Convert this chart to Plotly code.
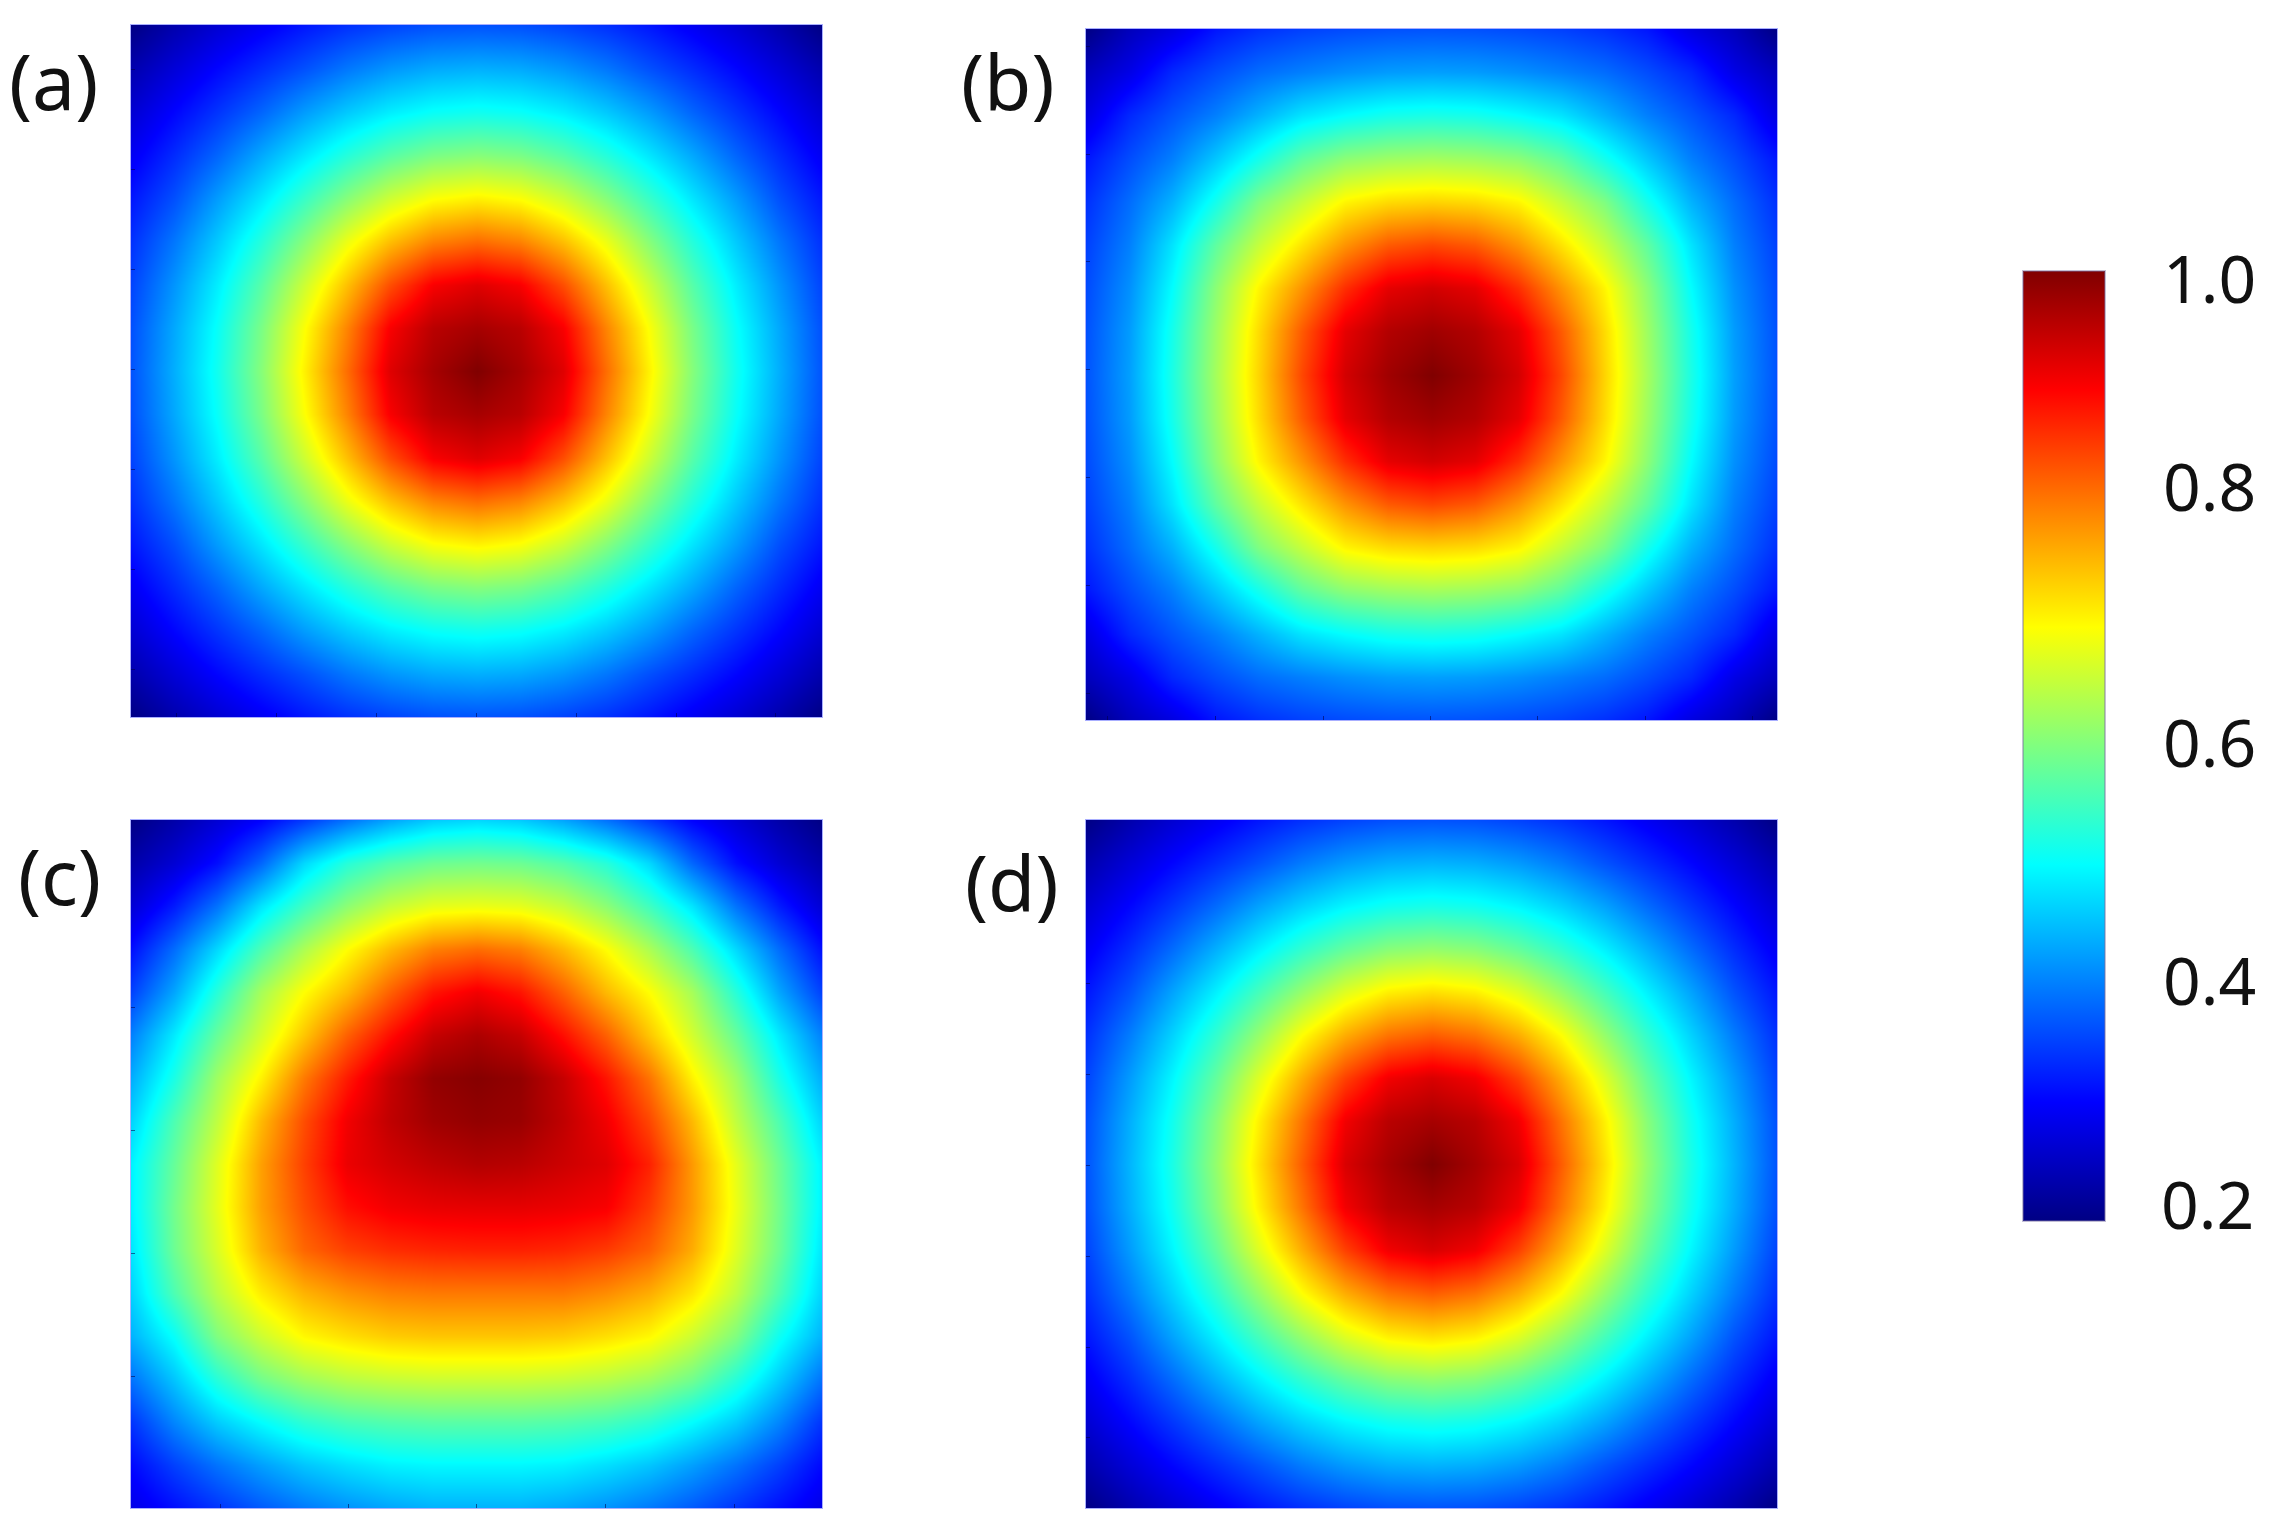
import plotly.graph_objects as go

W, H = 2276, 1540

GRID = [i / 16 for i in range(17)]

PANEL_A = [
    [.20, .233, .263, .29, .316, .337, .352, .362, .365, .362, .352, .337, .316, .29, .263, .233, .20],
    [.233, .268, .302, .333, .362, .393, .417, .432, .437, .432, .417, .393, .362, .333, .302, .268, .233],
    [.263, .302, .34, .379, .422, .458, .487, .505, .512, .505, .487, .458, .422, .379, .34, .302, .263],
    [.29, .333, .379, .432, .481, .528, .568, .595, .605, .595, .568, .528, .481, .432, .379, .333, .29],
    [.316, .362, .422, .481, .543, .605, .66, .697, .71, .697, .66, .605, .543, .481, .422, .362, .316],
    [.337, .393, .458, .528, .605, .685, .75, .797, .815, .797, .75, .685, .605, .528, .458, .393, .337],
    [.352, .417, .487, .568, .66, .75, .84, .905, .925, .905, .84, .75, .66, .568, .487, .417, .352],
    [.362, .432, .505, .595, .697, .797, .905, .955, .97, .955, .905, .797, .697, .595, .505, .432, .362],
    [.365, .437, .512, .605, .71, .815, .925, .97, 1.0, .97, .925, .815, .71, .605, .512, .437, .365],
    [.362, .432, .505, .595, .697, .797, .905, .955, .97, .955, .905, .797, .697, .595, .505, .432, .362],
    [.352, .417, .487, .568, .66, .75, .84, .905, .925, .905, .84, .75, .66, .568, .487, .417, .352],
    [.337, .393, .458, .528, .605, .685, .75, .797, .815, .797, .75, .685, .605, .528, .458, .393, .337],
    [.316, .362, .422, .481, .543, .605, .66, .697, .71, .697, .66, .605, .543, .481, .422, .362, .316],
    [.29, .333, .379, .432, .481, .528, .568, .595, .605, .595, .568, .528, .481, .432, .379, .333, .29],
    [.263, .302, .34, .379, .422, .458, .487, .505, .512, .505, .487, .458, .422, .379, .34, .302, .263],
    [.233, .268, .302, .333, .362, .393, .417, .432, .437, .432, .417, .393, .362, .333, .302, .268, .233],
    [.20, .233, .263, .29, .316, .337, .352, .362, .365, .362, .352, .337, .316, .29, .263, .233, .20],
]

PANEL_B = [
    [.20, .245, .275, .316, .337, .35, .358, .363, .365, .363, .358, .35, .337, .316, .275, .245, .20],
    [.245, .28, .33, .36, .385, .40, .413, .422, .425, .422, .413, .40, .385, .36, .33, .28, .245],
    [.275, .33, .366, .40, .44, .479, .50, .515, .52, .515, .50, .479, .44, .40, .366, .33, .275],
    [.316, .36, .40, .457, .516, .575, .61, .624, .63, .624, .61, .575, .516, .457, .40, .36, .316],
    [.337, .385, .44, .516, .60, .655, .708, .729, .735, .729, .708, .655, .60, .516, .44, .385, .337],
    [.35, .40, .479, .575, .655, .722, .785, .83, .845, .83, .785, .722, .655, .575, .479, .40, .35],
    [.358, .413, .50, .61, .708, .785, .865, .92, .935, .92, .865, .785, .708, .61, .50, .413, .358],
    [.363, .422, .515, .624, .729, .83, .92, .96, .975, .96, .92, .83, .729, .624, .515, .422, .363],
    [.365, .425, .52, .63, .735, .845, .935, .975, 1.0, .975, .935, .845, .735, .63, .52, .425, .365],
    [.363, .422, .515, .624, .729, .83, .92, .96, .975, .96, .92, .83, .729, .624, .515, .422, .363],
    [.358, .413, .50, .61, .708, .785, .865, .92, .935, .92, .865, .785, .708, .61, .50, .413, .358],
    [.35, .40, .479, .575, .655, .722, .785, .83, .845, .83, .785, .722, .655, .575, .479, .40, .35],
    [.337, .385, .44, .516, .60, .655, .708, .729, .735, .729, .708, .655, .60, .516, .44, .385, .337],
    [.316, .36, .40, .457, .516, .575, .61, .624, .63, .624, .61, .575, .516, .457, .40, .36, .316],
    [.275, .33, .366, .40, .44, .479, .50, .515, .52, .515, .50, .479, .44, .40, .366, .33, .275],
    [.245, .28, .33, .36, .385, .40, .413, .422, .425, .422, .413, .40, .385, .36, .33, .28, .245],
    [.20, .245, .275, .316, .337, .35, .358, .363, .365, .363, .358, .35, .337, .316, .275, .245, .20],
]

PANEL_C = [
    [.20, .23, .265, .30, .345, .39, .43, .46, .47, .46, .43, .39, .345, .30, .265, .23, .20],
    [.23, .265, .31, .38, .47, .53, .565, .585, .59, .585, .565, .53, .47, .38, .31, .265, .23],
    [.265, .32, .39, .48, .55, .61, .655, .68, .685, .68, .655, .61, .55, .48, .39, .32, .265],
    [.31, .385, .47, .56, .635, .70, .755, .80, .815, .80, .755, .70, .635, .56, .47, .385, .31],
    [.35, .43, .53, .63, .70, .755, .825, .885, .91, .885, .825, .755, .70, .63, .53, .43, .35],
    [.40, .485, .58, .665, .745, .825, .89, .945, .965, .945, .89, .825, .745, .665, .58, .485, .40],
    [.435, .52, .625, .71, .805, .88, .945, .985, .995, .985, .945, .885, .81, .71, .625, .52, .435],
    [.465, .56, .65, .755, .84, .91, .95, .975, .985, .98, .95, .91, .845, .755, .65, .56, .465],
    [.49, .58, .675, .775, .85, .915, .935, .95, .96, .955, .94, .925, .875, .78, .68, .585, .49],
    [.49, .59, .68, .775, .84, .89, .91, .918, .92, .92, .915, .905, .855, .78, .685, .59, .49],
    [.48, .585, .67, .76, .82, .85, .865, .872, .875, .875, .87, .855, .825, .765, .675, .585, .48],
    [.465, .56, .645, .715, .76, .785, .80, .805, .805, .805, .805, .79, .765, .72, .65, .56, .465],
    [.44, .505, .60, .66, .705, .725, .74, .745, .745, .745, .74, .725, .705, .66, .60, .51, .44],
    [.39, .455, .53, .59, .625, .645, .655, .66, .66, .66, .655, .645, .625, .59, .53, .46, .39],
    [.34, .405, .46, .50, .535, .555, .565, .57, .57, .57, .565, .555, .535, .50, .46, .405, .34],
    [.305, .35, .39, .425, .455, .475, .49, .495, .495, .495, .49, .475, .455, .425, .39, .35, .305],
    [.28, .31, .34, .37, .395, .415, .43, .44, .44, .44, .43, .415, .395, .37, .34, .31, .28],
]

PANEL_D = [
    [.20, .233, .263, .29, .316, .337, .352, .362, .365, .362, .352, .337, .316, .29, .263, .233, .20],
    [.233, .268, .302, .334, .365, .397, .421, .436, .441, .436, .421, .397, .365, .334, .302, .268, .233],
    [.263, .302, .342, .384, .428, .465, .494, .512, .519, .512, .494, .465, .428, .384, .342, .302, .263],
    [.29, .334, .384, .438, .49, .538, .578, .606, .616, .606, .578, .538, .49, .438, .384, .334, .29],
    [.316, .365, .428, .49, .555, .618, .675, .712, .725, .712, .675, .618, .555, .49, .428, .365, .316],
    [.337, .397, .465, .538, .618, .70, .765, .81, .828, .81, .765, .70, .618, .538, .465, .397, .337],
    [.352, .421, .494, .578, .675, .765, .85, .91, .93, .91, .85, .765, .675, .578, .494, .421, .352],
    [.362, .436, .512, .606, .712, .81, .91, .955, .97, .955, .91, .81, .712, .606, .512, .436, .362],
    [.365, .441, .519, .616, .725, .828, .93, .97, 1.0, .97, .93, .828, .725, .616, .519, .441, .365],
    [.362, .436, .512, .606, .712, .81, .91, .955, .97, .955, .91, .81, .712, .606, .512, .436, .362],
    [.352, .421, .494, .578, .675, .765, .85, .91, .93, .91, .85, .765, .675, .578, .494, .421, .352],
    [.337, .397, .465, .538, .618, .70, .765, .81, .828, .81, .765, .70, .618, .538, .465, .397, .337],
    [.316, .365, .428, .49, .555, .618, .675, .712, .725, .712, .675, .618, .555, .49, .428, .365, .316],
    [.29, .334, .384, .438, .49, .538, .578, .606, .616, .606, .578, .538, .49, .438, .384, .334, .29],
    [.263, .302, .342, .384, .428, .465, .494, .512, .519, .512, .494, .465, .428, .384, .342, .302, .263],
    [.233, .268, .302, .334, .365, .397, .421, .436, .441, .436, .421, .397, .365, .334, .302, .268, .233],
    [.20, .233, .263, .29, .316, .337, .352, .362, .365, .362, .352, .337, .316, .29, .263, .233, .20],
]

PANEL_LABELS = ["(a)", "(b)", "(c)", "(d)"]
COLORBAR_LABELS = ["1.0", "0.8", "0.6", "0.4", "0.2"]

X_TICKS_A = [.066, .211, .355, .5, .645, .789, .933]
Y_TICKS_A = [.065, .209, .354, .498, .642, .787, .932]
X_TICKS_B = [.031, .187, .343, .498, .653, .809, .964]
Y_TICKS_B = [.025, .181, .337, .493, .649, .805, .961]
X_TICKS_C = [.13, .315, .50, .687, .873]
Y_TICKS_C = [.273, .451, .63, .809]
X_TICKS_D = []
Y_TICKS_D = [.238, .37, .502, .634, .766, .898]

JET = [
    [0.0, "rgb(0,0,132)"],
    [0.125, "rgb(0,0,255)"],
    [0.375, "rgb(0,255,255)"],
    [0.625, "rgb(255,255,0)"],
    [0.875, "rgb(255,0,0)"],
    [1.0, "rgb(128,0,0)"],
]

# pixel boxes: left, right, top, bottom
BOXES = [(131, 822, 25, 717), (1086, 1777, 29, 720), (131, 822, 820, 1508), (1086, 1777, 820, 1508)]
PANELS = [PANEL_A, PANEL_B, PANEL_C, PANEL_D]
X_TICKS = [X_TICKS_A, X_TICKS_B, X_TICKS_C, X_TICKS_D]
Y_TICKS = [Y_TICKS_A, Y_TICKS_B, Y_TICKS_C, Y_TICKS_D]
LABEL_POS = [(53, 80), (1008, 80), (59, 875), (1012, 881)]
CBAR_LABEL_POS = [(2209, 277), (2209, 485), (2209, 741), (2209, 979), (2207, 1203)]

fig = go.Figure()
layout_axes = {}
for n, (panel, box) in enumerate(zip(PANELS, BOXES), start=1):
    suffix = "" if n == 1 else str(n)
    fig.add_trace(go.Heatmap(
        x=GRID, y=GRID, z=panel, coloraxis="coloraxis", zsmooth="best",
        xaxis="x" + suffix, yaxis="y" + suffix,
    ))
    tick_style = dict(ticks="inside", ticklen=4, tickwidth=1, tickcolor="rgba(0,0,70,0.55)",
                      showticklabels=False, showgrid=False, zeroline=False,
                      showline=True, linewidth=1, linecolor="rgba(110,120,255,0.6)", mirror=True)
    layout_axes["xaxis" + suffix] = dict(
        domain=[box[0] / W, box[1] / W], range=[0, 1], anchor="y" + suffix,
        tickmode="array", tickvals=X_TICKS[n - 1], **tick_style)
    layout_axes["yaxis" + suffix] = dict(
        domain=[1 - box[3] / H, 1 - box[2] / H], range=[1, 0], anchor="x" + suffix,
        tickmode="array", tickvals=Y_TICKS[n - 1], **tick_style)

annotations = []
for text, (px, py) in zip(PANEL_LABELS, LABEL_POS):
    annotations.append(dict(text=text, x=px / W, y=1 - py / H, xref="paper", yref="paper",
                            xanchor="center", yanchor="middle", showarrow=False,
                            font=dict(family="Noto Sans", size=77, color="#111111")))
for text, (px, py) in zip(COLORBAR_LABELS, CBAR_LABEL_POS):
    annotations.append(dict(text=text, x=px / W, y=1 - py / H, xref="paper", yref="paper",
                            xanchor="center", yanchor="middle", showarrow=False,
                            font=dict(family="Noto Sans", size=66, color="#111111")))

fig.update_layout(
    width=W, height=H, autosize=False,
    margin=dict(l=0, r=0, t=0, b=0),
    paper_bgcolor="white", plot_bgcolor="white",
    showlegend=False,
    annotations=annotations,
    coloraxis=dict(
        colorscale=JET, cmin=0.2, cmax=1.0,
        colorbar=dict(
            x=2023 / W, xanchor="left", xpad=0, ypad=0,
            y=1 - 1221 / H, yanchor="bottom",
            len=950, lenmode="pixels",
            thickness=82, thicknessmode="pixels",
            outlinewidth=2, outlinecolor="rgba(120,110,160,0.45)",
            ticks="", showticklabels=False,
        ),
    ),
    **layout_axes,
)

fig.write_html("out.html", post_script="document.body.style.margin='0';",
               config={"displayModeBar": False})
